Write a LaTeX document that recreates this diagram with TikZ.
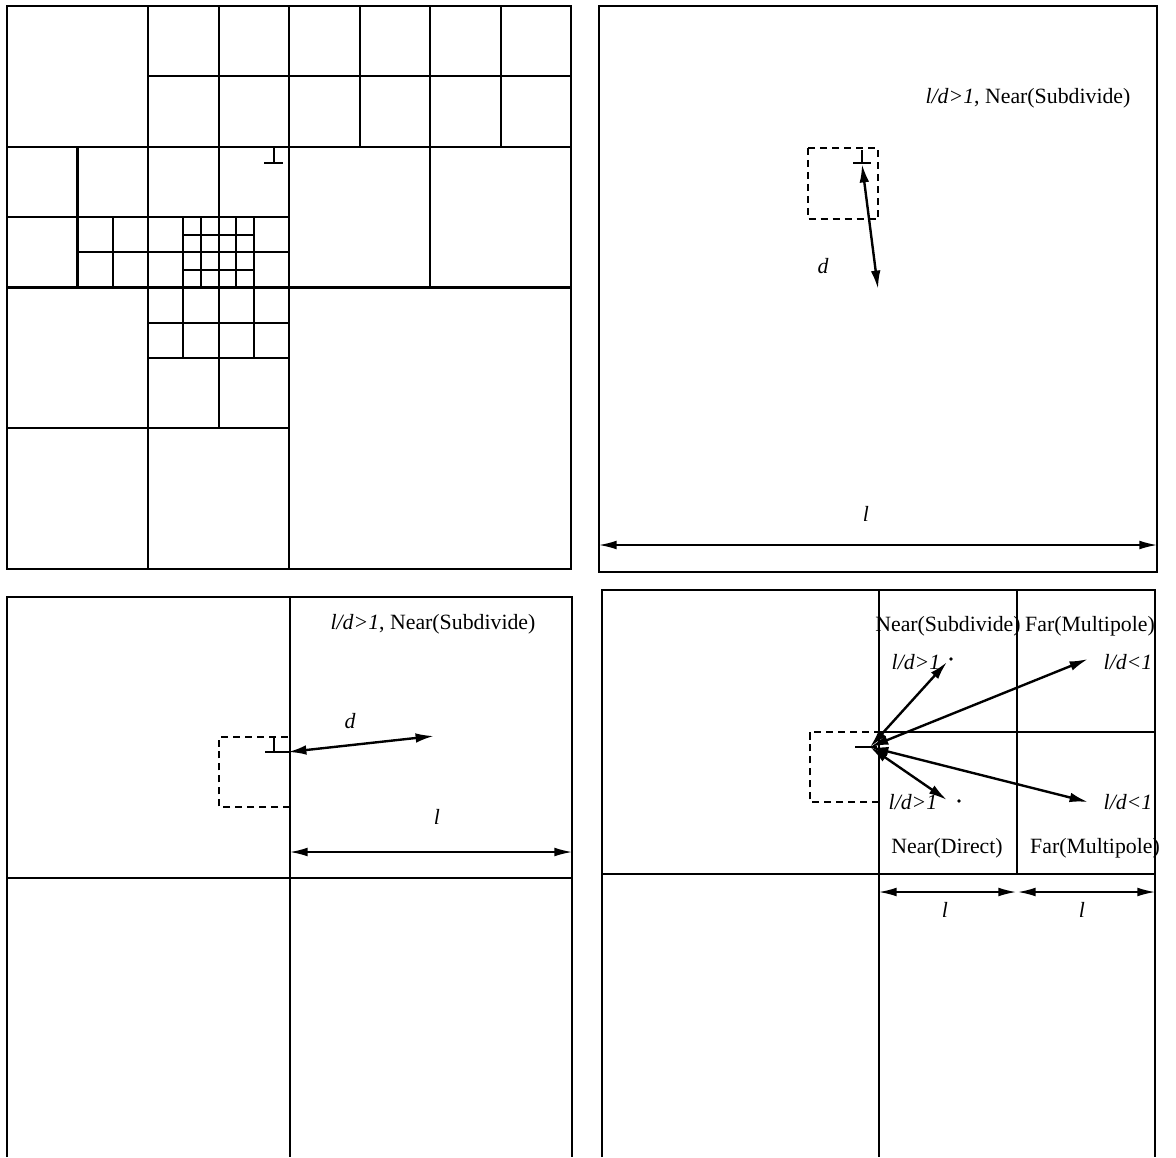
\documentclass[tikz,border=0pt]{standalone}
\usepackage{fontspec}
\setmainfont{Liberation Serif}
\usetikzlibrary{arrows.meta}
\begin{document}
\begin{tikzpicture}[x=0.025cm, y=-0.025cm,
  cell/.style={line width=1.5pt},
  frame/.style={line width=1.1pt},
  tick/.style={line width=0.9pt},
  nearbox/.style={line width=0.9pt, dash pattern=on 5pt off 3.5pt},
  darrow/.style={{Latex[length=4.6mm,width=2.4mm]}-{Latex[length=4.6mm,width=2.4mm]}, line width=1.7pt},
  dimline/.style={{Latex[length=4.4mm,width=2.2mm]}-{Latex[length=4.4mm,width=2.2mm]}, line width=1.1pt},
  lbl/.style={font=\fontsize{15.5}{18}\selectfont, inner sep=0pt},
  sym/.style={font=\fontsize{15.5}{18}\selectfont\itshape, inner sep=0pt}
]
  \useasboundingbox (0,0) rectangle (1176,1157);

  % Panel 1: adaptive subdivision of the domain
  \begin{scope}[shift={(7,6)}, x=1.7625cm, y=-1.759cm, cell]
    \draw (0,0) rectangle (8,8);
    \draw (2,0) -- (2,8) (4,0) -- (4,8) (0,2) -- (8,2) (0,4) -- (8,4);
    \draw (2,1) -- (8,1) (3,0) -- (3,6) (6,0) -- (6,4);
    \foreach \x in {5,7} \draw (\x,0) -- (\x,2);
    \draw (1,2) -- (1,4) (0,3) -- (4,3) (0,6) -- (4,6) (2,5) -- (4,5);
    \draw (1,3.5) -- (4,3.5) (1.5,3) -- (1.5,4) (2,4.5) -- (4,4.5);
    \draw (2.5,3) -- (2.5,5) (3.5,3) -- (3.5,5);
    \foreach \u in {2.75,3.25} \draw (\u,3) -- (\u,4);
    \foreach \v in {3.25,3.75} \draw (2.5,\v) -- (3.5,\v);
    \draw[tick] (3.787,2) -- (3.787,2.23) (3.645,2.23) -- (3.915,2.23);
  \end{scope}

  % Panel 2: one cell, source and target
  \draw[frame] (599,6) rectangle (1157,572);
  \draw[nearbox] (808,148) rectangle (878,219);
  \draw[tick] (862,150) -- (862,163) (853,163) -- (871,163);
  \coordinate (s2) at (862,164);
  \coordinate (t2) at (878,289);
  \draw[darrow] (s2) -- (t2);
  \node[sym] (d2) at (823,266) {d};
  \node[lbl] (cond2) at (1028,98) {\textit{l/d>1}, Near(Subdivide)};
  \node[sym] (l2) at (866,514) {l};
  \coordinate (w2a) at (599,545);
  \coordinate (w2b) at (1157,545);
  \draw[dimline] (w2a) -- (w2b);

  % Panel 3: first subdivision
  \draw[frame] (7,1157) -- (7,597) -- (572,597) -- (572,1157);
  \draw[frame] (290,597) -- (290,1157) (7,878) -- (572,878);
  \draw[nearbox] (290,807) -- (219,807) -- (219,737) -- (290,737);
  \draw[tick] (274,737) -- (274,752) (265,752) -- (290,752);
  \coordinate (s3) at (288,752);
  \coordinate (t3) at (434,736);
  \draw[darrow] (s3) -- (t3);
  \node[sym] (d3) at (350,721) {d};
  \node[lbl] (cond3) at (433,624) {\textit{l/d>1}, Near(Subdivide)};
  \node[sym] (l3) at (437,817) {l};
  \coordinate (w3a) at (290,852);
  \coordinate (w3b) at (572,852);
  \draw[dimline] (w3a) -- (w3b);

  % Panel 4: near and far children
  \draw[frame] (602,1157) -- (602,590) -- (1155,590) -- (1155,1157);
  \draw[frame] (879,590) -- (879,1157) (602,874) -- (1155,874);
  \draw[frame] (1017,590) -- (1017,874) (879,732) -- (1155,732);
  \draw[nearbox] (879,802) -- (810,802) -- (810,732) -- (879,732);
  \draw[tick] (855,747) -- (877,747);
  \coordinate (s4) at (870,747);
  \coordinate (t4a) at (947,662);
  \coordinate (t4b) at (1088,659);
  \coordinate (t4c) at (947,800);
  \coordinate (t4d) at (1088,802);
  \foreach \t in {a,b,c,d} \draw[darrow] (s4) -- (t4\t);
  \fill (951,659) circle[radius=1.3pt];
  \fill (959,801) circle[radius=1.3pt];
  \node[lbl] (ns) at (948,626) {Near(Subdivide)};
  \node[lbl] (fm1) at (1090,626) {Far(Multipole)};
  \node[sym] (c4a) at (916,662) {l/d>1};
  \node[sym] (c4b) at (1128,662) {l/d<1};
  \node[sym] (c4c) at (913,802) {l/d>1};
  \node[sym] (c4d) at (1128,802) {l/d<1};
  \node[lbl] (nd) at (947,848) {Near(Direct)};
  \node[lbl] (fm2) at (1095,848) {Far(Multipole)};
  \coordinate (w4a) at (879,892);
  \coordinate (w4b) at (1016,892);
  \coordinate (w4c) at (1018,892);
  \coordinate (w4d) at (1155,892);
  \draw[dimline] (w4a) -- (w4b);
  \draw[dimline] (w4c) -- (w4d);
  \node[sym] (l4a) at (945,910) {l};
  \node[sym] (l4b) at (1082,910) {l};
\end{tikzpicture}
\end{document}
